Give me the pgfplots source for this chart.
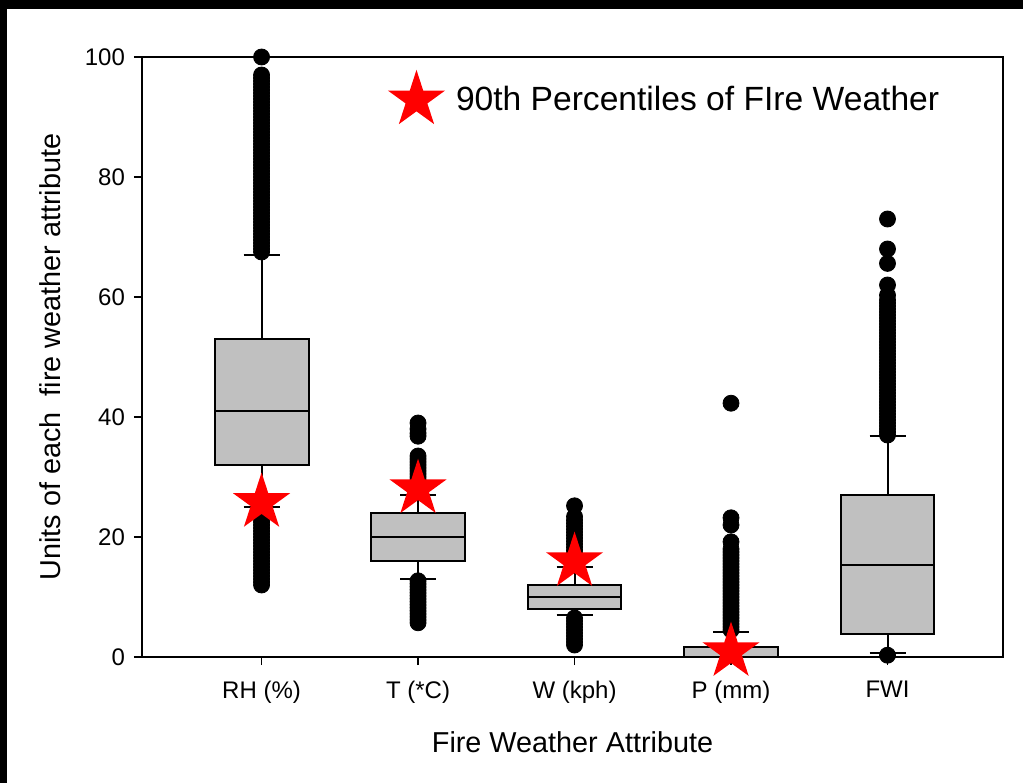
\documentclass[border=0pt]{standalone}
\usepackage{pgfplots}
\pgfplotsset{compat=1.18}
\usepgfplotslibrary{statistics}
\usepackage{fontspec}
\setmainfont{Liberation Sans}
\definecolor{boxgray}{RGB}{192,192,192}
\pgfdeclareplotmark{fstar}{%
  \pgfpathmoveto{\pgfpointpolar{90}{\pgfplotmarksize}}%
  \pgfpathlineto{\pgfpointpolar{126}{0.382\pgfplotmarksize}}%
  \pgfpathlineto{\pgfpointpolar{162}{\pgfplotmarksize}}%
  \pgfpathlineto{\pgfpointpolar{198}{0.382\pgfplotmarksize}}%
  \pgfpathlineto{\pgfpointpolar{234}{\pgfplotmarksize}}%
  \pgfpathlineto{\pgfpointpolar{270}{0.382\pgfplotmarksize}}%
  \pgfpathlineto{\pgfpointpolar{306}{\pgfplotmarksize}}%
  \pgfpathlineto{\pgfpointpolar{342}{0.382\pgfplotmarksize}}%
  \pgfpathlineto{\pgfpointpolar{18}{\pgfplotmarksize}}%
  \pgfpathlineto{\pgfpointpolar{54}{0.382\pgfplotmarksize}}%
  \pgfpathclose
  \pgfusepathqfill}
\begin{document}
\begin{tikzpicture}
\path[use as bounding box] (-71pt,-63pt) rectangle (440.5pt,328.5pt);
\fill[black] (-71pt,323.8pt) rectangle (440.5pt,328.5pt);
\fill[black] (-71pt,-63pt) rectangle (-67.3pt,328.5pt);
\begin{axis}[
  at={(0pt,0pt)}, anchor=south west,
  scale only axis, width=430.5pt, height=300pt,
  xmin=-0.764, xmax=4.738, ymin=0, ymax=100,
  xtick={0,1,2,3,4},
  xticklabels={RH (\%), T (*C), W (kph), P (mm), FWI},
  ytick={0,20,40,60,80,100},
  tick align=outside, xtick pos=bottom, ytick pos=left,
  major tick length=4pt,
  axis line style={line width=1pt},
  every tick/.style={line width=0.9pt, black},
  clip=false,
  /pgf/number format/assume math mode=true,
  tick label style={font=\fontsize{12}{14}\selectfont},
  xticklabel style={yshift=-4.5pt},
  yticklabel style={xshift=-1pt},
  label style={font=\fontsize{14.4}{17}\selectfont},
  xlabel={Fire Weather Attribute},
  ylabel={Units of each\ \ fire weather attribute},
  xlabel style={at={(axis description cs:0.5,0)}, anchor=center, yshift=-42.5pt},
  ylabel style={at={(axis description cs:-0.1068,0.5)}, anchor=center},
  boxplot/draw direction=y,
  boxplot/box extend=0.6,
  boxplot/whisker extend=0.23,
  boxplot/every box/.style={fill=boxgray, draw=black, line width=1pt},
  boxplot/every median/.style={draw=black, line width=1pt},
  boxplot/every whisker/.style={draw=black, line width=1pt},
  legend style={draw=none, fill=none, at={(axis description cs:0.2852,0.9333)}, anchor=west, inner sep=0pt, font=\fontsize{16.8}{20}\selectfont,
    /tikz/every odd column/.append style={column sep=3.5pt}},
  legend image code/.code={\draw[#1] plot coordinates {(0pt,0pt)};},
]
\addplot[boxplot prepared={draw position=0, lower whisker=25, lower quartile=32, median=41, upper quartile=53, upper whisker=67}, forget plot] coordinates {};
\addplot[boxplot prepared={draw position=1, lower whisker=13, lower quartile=16, median=20, upper quartile=24, upper whisker=27}, forget plot] coordinates {};
\addplot[boxplot prepared={draw position=2, lower whisker=7, lower quartile=8, median=10, upper quartile=12, upper whisker=15}, forget plot] coordinates {};
\addplot[boxplot prepared={draw position=3, lower whisker=0, lower quartile=0, median=0, upper quartile=1.6, upper whisker=4.2}, forget plot] coordinates {};
\addplot[boxplot prepared={draw position=4, lower whisker=0.6, lower quartile=3.8, median=15.4, upper quartile=27, upper whisker=36.8}, forget plot] coordinates {};
% outliers
\addplot[only marks, mark=*, mark size=4pt, black, forget plot] table[row sep=\\] {
x y\\
0 67.5\\ 0 68\\ 0 68.5\\ 0 69\\ 0 69.5\\ 0 70\\ 0 70.5\\ 0 71\\ 0 71.5\\ 0 72\\ 0 72.5\\ 0 73\\ 0 73.5\\ 0 74\\ 0 74.5\\ 0 75\\ 0 75.5\\ 0 76\\ 0 76.5\\ 0 77\\ 0 77.5\\ 0 78\\ 0 78.5\\ 0 79\\ 0 79.5\\ 0 80\\ 0 80.5\\ 0 81\\ 0 81.5\\ 0 82\\ 0 82.5\\ 0 83\\ 0 83.5\\ 0 84\\ 0 84.5\\ 0 85\\ 0 85.5\\ 0 86\\ 0 86.5\\ 0 87\\ 0 87.5\\ 0 88\\ 0 88.5\\ 0 89\\ 0 89.5\\ 0 90\\ 0 90.5\\ 0 91\\ 0 91.5\\ 0 92\\ 0 92.5\\ 0 93\\ 0 93.5\\ 0 94\\ 0 94.5\\ 0 95\\ 0 95.5\\ 0 96\\ 0 96.5\\ 0 97\\ 0 100\\
0 12\\ 0 12.5\\ 0 13\\ 0 13.5\\ 0 14\\ 0 14.5\\ 0 15\\ 0 15.5\\ 0 16\\ 0 16.5\\ 0 17\\ 0 17.5\\ 0 18\\ 0 18.5\\ 0 19\\ 0 19.5\\ 0 20\\ 0 20.5\\ 0 21\\ 0 21.5\\ 0 22\\ 0 22.5\\ 0 23\\ 0 23.5\\ 0 24\\ 0 24.5\\
1 27.5\\ 1 28\\ 1 28.5\\ 1 29\\ 1 29.5\\ 1 30\\ 1 30.5\\ 1 31\\ 1 31.5\\ 1 32\\ 1 32.5\\ 1 33\\ 1 33.5\\ 1 36.8\\ 1 37.3\\ 1 38\\ 1 39\\
1 5.7\\ 1 6.2\\ 1 6.7\\ 1 7.2\\ 1 7.7\\ 1 8.2\\ 1 8.7\\ 1 9.2\\ 1 9.7\\ 1 10.2\\ 1 10.7\\ 1 11.2\\ 1 11.7\\ 1 12.2\\ 1 12.7\\
2 15.3\\ 2 15.8\\ 2 16.3\\ 2 16.8\\ 2 17.3\\ 2 17.8\\ 2 18.3\\ 2 18.8\\ 2 19.3\\ 2 19.8\\ 2 20.3\\ 2 20.8\\ 2 21.3\\ 2 21.8\\ 2 22.3\\ 2 22.8\\ 2 23.4\\ 2 25.2\\
2 2\\ 2 2.5\\ 2 3\\ 2 3.5\\ 2 4\\ 2 4.5\\ 2 5\\ 2 5.5\\ 2 6\\ 2 6.5\\
3 4.5\\ 3 5\\ 3 5.5\\ 3 6\\ 3 6.5\\ 3 7\\ 3 7.5\\ 3 8\\ 3 8.5\\ 3 9\\ 3 9.5\\ 3 10\\ 3 10.5\\ 3 11\\ 3 11.5\\ 3 12\\ 3 12.5\\ 3 13\\ 3 13.5\\ 3 14\\ 3 14.5\\ 3 15\\ 3 15.5\\ 3 16\\ 3 16.5\\ 3 17\\ 3 17.5\\ 3 18\\ 3 19.2\\ 3 22\\ 3 23.2\\ 3 42.3\\
4 37\\ 4 37.5\\ 4 38\\ 4 38.5\\ 4 39\\ 4 39.5\\ 4 40\\ 4 40.5\\ 4 41\\ 4 41.5\\ 4 42\\ 4 42.5\\ 4 43\\ 4 43.5\\ 4 44\\ 4 44.5\\ 4 45\\ 4 45.5\\ 4 46\\ 4 46.5\\ 4 47\\ 4 47.5\\ 4 48\\ 4 48.5\\ 4 49\\ 4 49.5\\ 4 50\\ 4 50.5\\ 4 51\\ 4 51.5\\ 4 52\\ 4 52.5\\ 4 53\\ 4 53.5\\ 4 54\\ 4 54.5\\ 4 55\\ 4 55.5\\ 4 56\\ 4 56.5\\ 4 57\\ 4 57.5\\ 4 58\\ 4 58.5\\ 4 59\\ 4 59.5\\ 4 60.3\\ 4 62\\ 4 65.6\\ 4 68\\ 4 73\\
4 0.3\\
};
% 90th percentiles
\addplot[only marks, mark=fstar, mark size=15pt, color=red, fill=red] coordinates {(0,25.75) (1,28.05) (2,15.9) (3,0.9)};
\legend{90th Percentiles of FIre Weather}
\end{axis}
\end{tikzpicture}
\end{document}
